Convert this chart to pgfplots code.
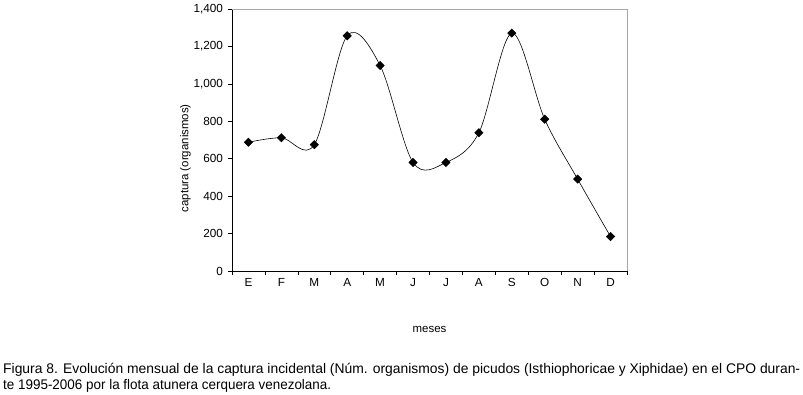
\documentclass[border=0pt]{standalone}
\usepackage{fontspec}
\setmainfont{Liberation Sans}
\usepackage{graphicx}
\usepackage{pgfplots}
\pgfplotsset{compat=1.18}
\begin{document}
\begin{tikzpicture}[x=1bp,y=1bp]
\path (0,0) rectangle (803,394);
\begin{axis}[
  at={(232bp,123bp)}, anchor=south west,
  width=395bp, height=262bp, scale only axis,
  xmin=-0.5, xmax=11.5, ymin=0, ymax=1400,
  axis x line*=bottom, axis y line*=left,
  axis line style={black, line width=0.6pt},
  xtick={0,...,11},
  xticklabels={E,F,M,A,M,J,J,A,S,O,N,D},
  major x tick style={draw=none},
  minor xtick={-0.5,0.5,...,11.5},
  ytick={0,200,...,1400},
  tick align=outside,
  major tick length=4bp, minor tick length=4bp,
  tick style={black, line width=0.6pt},
  tick label style={font=\fontsize{11.8}{13}\selectfont},
  yticklabel style={xshift=-1.5bp},
  /pgf/number format/assume math mode=true,
  /pgf/number format/1000 sep={,},
  ylabel={captura (organismos)},
  ylabel style={font=\fontsize{11.5}{13}\selectfont, at={(axis description cs:-0.118,0.43)}, anchor=center},
  xlabel={meses},
  xlabel style={font=\fontsize{11.5}{13}\selectfont, at={(axis description cs:0.5,-0.225)}, anchor=center},
  clip=false,
]
\draw[gray!70, line width=0.6pt] (rel axis cs:0,1) -- (rel axis cs:1,1) -- (rel axis cs:1,0);
\addplot[black, line width=0.6pt, smooth, tension=0.55, mark=square*, mark size=2.9bp, mark options={fill=black, rotate=45}]
coordinates {(0,688) (1,712) (2,675) (3,1257) (4,1098) (5,580) (6,580) (7,739) (8,1271) (9,811) (10,491) (11,184)};
\end{axis}
\node[anchor=base west, inner sep=0pt, font=\fontsize{14}{16}\selectfont] at (3,21) {\resizebox{797bp}{\height}{Figura 8. Evolución mensual de la captura incidental (Núm. organismos) de picudos (Isthiophoricae y Xiphidae) en el CPO duran-}};
\node[anchor=base west, inner sep=0pt, font=\fontsize{14}{16}\selectfont] at (3,5) {\resizebox{328bp}{\height}{te 1995-2006 por la flota atunera cerquera venezolana.}};
\end{tikzpicture}
\end{document}
